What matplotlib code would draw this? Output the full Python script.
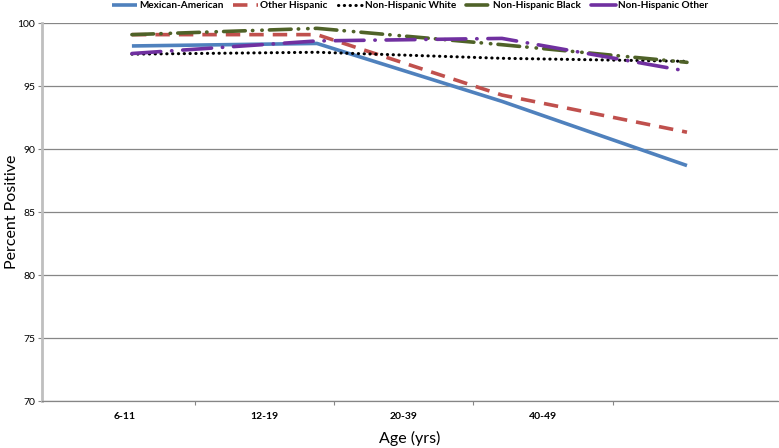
import matplotlib
matplotlib.use("Agg")
import matplotlib.pyplot as plt
import numpy as np

plt.rcParams['font.family'] = ['Lato', 'DejaVu Sans']

categories = ['6-11', '12-19', '20-39', '40-49']
series_names = ['Mexican-American', 'Other Hispanic', 'Non-Hispanic White',
                'Non-Hispanic Black', 'Non-Hispanic Other']
mexican_american = [98.2, 98.4, 93.8, 88.7]
other_hispanic = [99.1, 99.1, 94.3, 91.35]
nh_white = [97.55, 97.7, 97.22, 96.98]
nh_black = [99.1, 99.6, 98.3, 96.9]
nh_other = [97.6, 98.6, 98.8, 96.2]
y_ticks = [70, 75, 80, 85, 90, 95, 100]

fig = plt.figure(figsize=(7.79, 4.48), dpi=100)
W, H = 779, 448
left, right, top, bottom = 42, 778, 23.3, 401
ax = fig.add_axes([left / W, 1 - bottom / H, (right - left) / W, (bottom - top) / H])

# category axis (labels)
ax.set_xlim(-0.596, 4.688)
ax.set_ylim(70, 100)
ax.set_xticks(range(len(categories)))
ax.set_xticklabels(categories, fontsize=7.5, fontweight='bold')
ax.set_xticks([0.5, 1.5, 2.5, 3.5], minor=True)
ax.tick_params(axis='x', which='major', length=0, pad=8)
ax.tick_params(axis='x', which='minor', length=3, color='#868686', width=0.8)
ax.set_yticks(y_ticks)
ax.set_yticklabels([str(v) for v in y_ticks], fontsize=7.5)
ax.tick_params(axis='y', length=3, color='#868686', width=0.8, pad=2)
ax.grid(axis='y', color='#868686', linewidth=0.9)
ax.set_axisbelow(True)
for s in ['top', 'right']:
    ax.spines[s].set_visible(False)
ax.spines['left'].set_color('#BFBFBF')
ax.spines['left'].set_linewidth(2)
ax.spines['bottom'].set_color('#868686')
ax.spines['bottom'].set_linewidth(0.9)
ax.set_xlabel('Age (yrs)', fontsize=11.5, labelpad=7)
ax.set_ylabel('Percent Positive', fontsize=11.5, va='center')
ax.yaxis.set_label_coords((12 - left) / (right - left), 0.5)

# data axis overlay
ax2 = ax.twiny()
ax2.set_xlim(-0.486, 3.492)
ax2.set_ylim(70, 100)
ax2.axis('off')
x = np.arange(len(categories))
lines = []
lines += ax2.plot(x, mexican_american, color='#4F81BD', lw=2.6, solid_capstyle='butt')
lines += ax2.plot(x, other_hispanic, color='#C0504D', lw=2.6, dashes=(4, 2.5))
lines += ax2.plot(x, nh_white, color='black', lw=2.2, dashes=(0.1, 1.8), dash_capstyle='round')
lines += ax2.plot(x, nh_black, color='#4F6228', lw=2.6, dashes=(6, 2, 0.1, 2.5, 0.1, 2), dash_capstyle='round')
lines += ax2.plot(x, nh_other, color='#7030A0', lw=2.6, dashes=(8, 3, 0.1, 3), dash_capstyle='round')

leg = fig.legend(lines, series_names, loc='center', bbox_to_anchor=(410 / W, 1 - 6 / H),
                 ncol=5, frameon=False, handlelength=2.5, columnspacing=1.0,
                 handletextpad=0.2, borderpad=0, prop={'weight': 'bold', 'size': 7.2})

fig.savefig('out.png', dpi=100)
